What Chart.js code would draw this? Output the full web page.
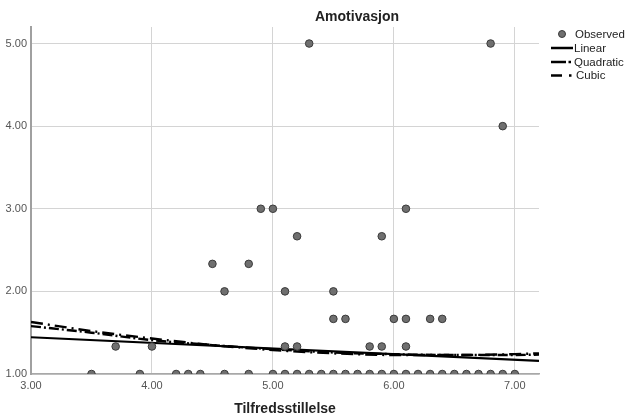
<!DOCTYPE html>
<html>
<head>
<meta charset="utf-8">
<script src="https://cdn.jsdelivr.net/npm/chart.js@4/dist/chart.umd.min.js"></script>
<style>
  html, body { margin: 0; padding: 0; background: #fff; }
  #wrap { width: 627px; height: 419px; }
</style>
</head>
<body>
<div id="wrap"><canvas id="c" width="627" height="419"></canvas></div>
<script>
// Observed scores (Tilfredsstillelse, Amotivasjon)
const obsX = [
  3.5, 3.9, 4.2, 4.3, 4.4, 4.6, 4.8,
  5.0, 5.1, 5.2, 5.3, 5.4, 5.5, 5.6, 5.7, 5.8, 5.9, 6.0,
  6.1, 6.2, 6.3, 6.4, 6.5, 6.6, 6.7, 6.8, 6.9, 7.0,
  3.7, 4.0, 5.1, 5.2, 5.8, 5.9, 6.1,
  5.5, 5.6, 6.0, 6.1, 6.3, 6.4,
  4.6, 5.1, 5.5,
  4.5, 4.8,
  5.2, 5.9,
  4.9, 5.0, 6.1,
  6.9,
  5.3, 6.8
];
const obsY = [
  1, 1, 1, 1, 1, 1, 1,
  1, 1, 1, 1, 1, 1, 1, 1, 1, 1, 1,
  1, 1, 1, 1, 1, 1, 1, 1, 1, 1,
  1.333, 1.333, 1.333, 1.333, 1.333, 1.333, 1.333,
  1.667, 1.667, 1.667, 1.667, 1.667, 1.667,
  2, 2, 2,
  2.333, 2.333,
  2.667, 2.667,
  3, 3, 3,
  4,
  5, 5
];

// Fitted curves
const linX = [3.0, 7.2];
const linY = [1.445, 1.16];
const fitX = [3.0, 3.5, 4.0, 4.5, 5.0, 5.5, 6.0, 6.5, 7.0, 7.2];
const quadY = [1.58, 1.50, 1.41, 1.35, 1.30, 1.26, 1.24, 1.23, 1.23, 1.235];
const cubY  = [1.63, 1.52, 1.43, 1.35, 1.29, 1.25, 1.23, 1.23, 1.24, 1.25];

// Axis ticks
const xTicks = [3, 4, 5, 6, 7];
const yTicks = [1, 2, 3, 4, 5];

const chartTitle = 'Amotivasjon';
const xTitle = 'Tilfredsstillelse';
const legendLabels = ['Observed', 'Linear', 'Quadratic', 'Cubic'];

const FONT = '"Liberation Sans", Arial, sans-serif';
const toPts = (xs, ys) => xs.map((x, i) => ({ x: x, y: ys[i] }));

const titleAndLegend = {
  id: 'titleAndLegend',
  afterDraw(chart) {
    const ctx = chart.ctx;
    ctx.save();
    // title
    ctx.fillStyle = '#222';
    ctx.font = 'bold 14px ' + FONT;
    ctx.textAlign = 'center';
    ctx.textBaseline = 'middle';
    ctx.fillText(chartTitle, 357, 17);

    // legend
    ctx.font = '11.5px ' + FONT;
    ctx.textAlign = 'left';
    ctx.fillStyle = '#6f6f6f';
    ctx.strokeStyle = '#3a3a3a';
    ctx.lineWidth = 1;
    ctx.beginPath();
    ctx.arc(562, 34, 3.5, 0, Math.PI * 2);
    ctx.fill();
    ctx.stroke();

    ctx.strokeStyle = '#000';
    ctx.lineWidth = 2.5;
    ctx.lineCap = 'butt';
    // Linear
    ctx.beginPath(); ctx.moveTo(551, 48); ctx.lineTo(573, 48); ctx.stroke();
    // Quadratic
    ctx.beginPath(); ctx.moveTo(551, 62); ctx.lineTo(566, 62); ctx.stroke();
    ctx.beginPath(); ctx.moveTo(568.5, 62); ctx.lineTo(571, 62); ctx.stroke();
    // Cubic
    ctx.beginPath(); ctx.moveTo(551, 75.5); ctx.lineTo(562, 75.5); ctx.stroke();
    ctx.beginPath(); ctx.moveTo(569, 75.5); ctx.lineTo(571.5, 75.5); ctx.stroke();

    ctx.fillStyle = '#222';
    ctx.fillText(legendLabels[0], 575, 34.5);
    ctx.fillText(legendLabels[1], 574, 48.5);
    ctx.fillText(legendLabels[2], 574, 62.5);
    ctx.fillText(legendLabels[3], 576, 76);
    ctx.restore();
  }
};

new Chart(document.getElementById('c'), {
  type: 'scatter',
  data: {
    datasets: [
      {
        label: legendLabels[0],
        data: toPts(obsX, obsY),
        backgroundColor: '#6f6f6f',
        borderColor: '#3a3a3a',
        borderWidth: 1,
        pointRadius: 3.8,
        order: 0
      },
      {
        label: legendLabels[1],
        data: toPts(linX, linY),
        showLine: true,
        borderColor: '#000',
        borderWidth: 2.2,
        pointRadius: 0,
        order: 3
      },
      {
        label: legendLabels[2],
        data: toPts(fitX, quadY),
        showLine: true,
        borderColor: '#000',
        borderWidth: 2.4,
        borderDash: [10, 3, 2, 3],
        cubicInterpolationMode: 'monotone',
        pointRadius: 0,
        order: 2
      },
      {
        label: legendLabels[3],
        data: toPts(fitX, cubY),
        showLine: true,
        borderColor: '#000',
        borderWidth: 2.4,
        borderDash: [12, 5, 2, 5],
        cubicInterpolationMode: 'monotone',
        pointRadius: 0,
        order: 1
      }
    ]
  },
  options: {
    responsive: false,
    animation: false,
    events: [],
    layout: { padding: { left: 0, top: 27, right: 88, bottom: 0 } },
    plugins: {
      legend: { display: false },
      tooltip: { enabled: false },
      title: { display: false }
    },
    scales: {
      x: {
        type: 'linear',
        min: 3,
        max: 7.2,
        afterFit(scale) { scale.height = 45; },
        afterBuildTicks(scale) { scale.ticks = xTicks.map(v => ({ value: v })); },
        ticks: {
          includeBounds: false,
          padding: 5,
          color: '#555',
          font: { family: FONT, size: 11 },
          callback: v => Number(v).toFixed(2)
        },
        grid: { color: '#d4d4d4', lineWidth: 1, drawTicks: false },
        border: { color: '#a8a8a8', width: 1.5 },
        title: {
          display: true,
          text: xTitle,
          color: '#222',
          font: { family: FONT, size: 14, weight: 'bold' },
          padding: { top: 0, bottom: 1 }
        }
      },
      y: {
        type: 'linear',
        min: 1,
        max: 5.2,
        afterFit(scale) { scale.width = 31; },
        afterBuildTicks(scale) { scale.ticks = yTicks.map(v => ({ value: v })); },
        ticks: {
          includeBounds: false,
          padding: 4,
          color: '#555',
          font: { family: FONT, size: 11 },
          callback: v => Number(v).toFixed(2)
        },
        grid: { color: '#d4d4d4', lineWidth: 1, drawTicks: false },
        border: { color: '#a0a0a0', width: 2 }
      }
    }
  },
  plugins: [titleAndLegend]
});
</script>
</body>
</html>
